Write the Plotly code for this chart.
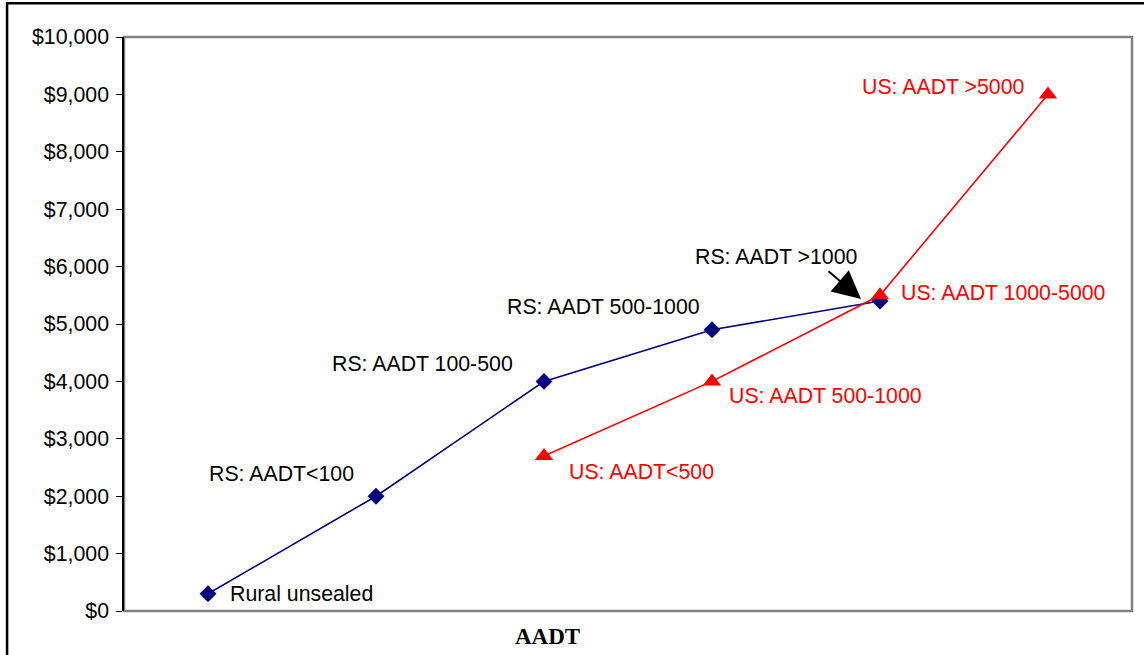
import plotly.graph_objects as go

# ---- data ----
x_categories = ["Unsealed", "<100", "100-500", "500-1000", "1000-5000", ">5000"]
rs_x = x_categories[0:5]
rs_cost = [300, 2000, 4000, 4900, 5400]
rs_labels = ["Rural unsealed", "RS: AADT<100", "RS: AADT 100-500", "RS: AADT 500-1000", "RS: AADT >1000"]
us_x = x_categories[2:6]
us_cost = [2700, 4000, 5500, 9000]
us_labels = ["US: AADT<500", "US: AADT 500-1000", "US: AADT 1000-5000", "US: AADT >5000"]
y_ticks = list(range(0, 10001, 1000))
y_ticktext = ["${:,}".format(v) for v in y_ticks]

FONT = "Arial, Liberation Sans, sans-serif"
NAVY = "#000080"
RED = "#FF0000"
FS = 21.3

fig = go.Figure()
fig.add_trace(go.Scatter(x=rs_x, y=rs_cost, mode="lines+markers",
                         line=dict(color=NAVY, width=1.6),
                         marker=dict(symbol="diamond", size=13, color=NAVY),
                         showlegend=False, cliponaxis=False))
fig.add_trace(go.Scatter(x=us_x, y=us_cost, mode="lines+markers",
                         line=dict(color=RED, width=1.6),
                         marker=dict(symbol="triangle-up", size=16, color=RED),
                         showlegend=False, cliponaxis=False))

# label placements (anchor, xshift, yshift) relative to each point
rs_place = [("left", 20, 0), ("right", -20, 22), ("right", -29, 17), ("right", -10, 23), ("right", -20, 44)]
us_place = [("left", 23, -16), ("left", 15, -15), ("left", 19, 2), ("right", -21, 7)]

ann = []
for xv, yv, t, (anc, xs, ys) in zip(rs_x, rs_cost, rs_labels, rs_place):
    ann.append(dict(x=xv, y=yv, text=t, showarrow=False, xanchor=anc, yanchor="middle",
                    xshift=xs, yshift=ys, font=dict(family=FONT, size=FS, color="black")))
for xv, yv, t, (anc, xs, ys) in zip(us_x, us_cost, us_labels, us_place):
    ann.append(dict(x=xv, y=yv, text=t, showarrow=False, xanchor=anc, yanchor="middle",
                    xshift=xs, yshift=ys, font=dict(family=FONT, size=FS, color=RED)))
# arrow pointing at the RS: AADT >1000 point
ann.append(dict(x=rs_x[4], y=rs_cost[4], text="", showarrow=True, arrowhead=2,
                arrowsize=2.8, arrowwidth=2, arrowcolor="black", ax=-34, ay=-29,
                xshift=-19, yshift=2))
# axis title
ann.append(dict(xref="paper", yref="paper", x=0.42, y=-0.045, text="<b>AADT</b>",
                showarrow=False, xanchor="center", yanchor="middle",
                font=dict(family="Times New Roman, Liberation Serif, serif", size=23, color="black")))

fig.update_layout(
    width=1144, height=655,
    margin=dict(l=124, r=12, t=37, b=44),
    paper_bgcolor="white", plot_bgcolor="white",
    annotations=ann,
    shapes=[
        # plot area border (gray)
        dict(type="rect", xref="paper", yref="paper", x0=0, x1=1, y0=0, y1=1,
             line=dict(color="#808080", width=2.5), layer="below"),
        # outer chart frame (black)
        dict(type="rect", xref="paper", yref="paper", x0=-0.116, x1=1.1, y0=-0.2, y1=1.059,
             line=dict(color="black", width=2.5)),
    ],
    xaxis=dict(type="category", categoryorder="array", categoryarray=x_categories,
               range=[-0.5, 5.5], showticklabels=False, ticks="", showgrid=False,
               zeroline=False, showline=False),
    yaxis=dict(range=[0, 10000], tickvals=y_ticks, ticktext=y_ticktext,
               ticks="outside", ticklen=6, tickcolor="black", tickwidth=1,
               showline=True, linecolor="black", linewidth=1.5,
               showgrid=False, zeroline=False, ticklabelstandoff=3,
               tickfont=dict(family=FONT, size=FS, color="black")),
)

fig.write_html("out.html", config={"displayModeBar": False},
               post_script="document.body.style.margin='0';document.body.style.padding='0';")
